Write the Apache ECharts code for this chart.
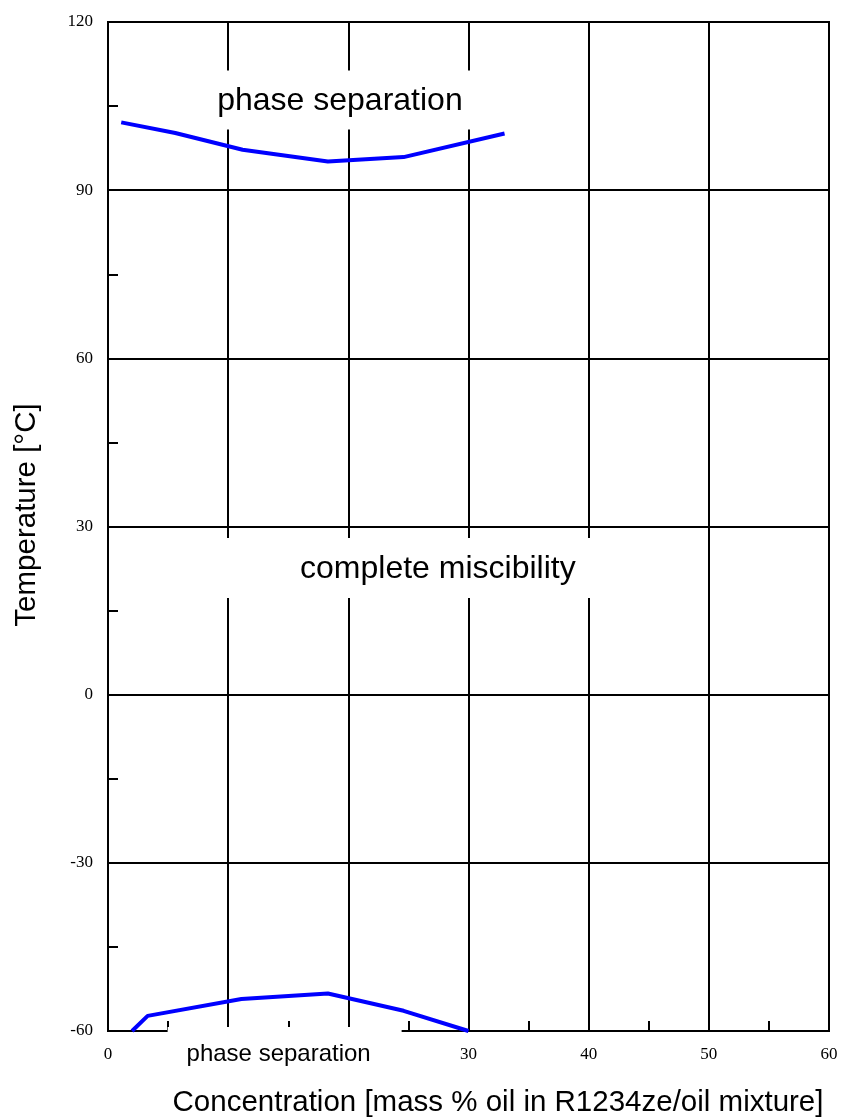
<!DOCTYPE html>
<html>
<head>
<meta charset="utf-8">
<script src="https://cdn.jsdelivr.net/npm/echarts@6/dist/echarts.min.js"></script>
<style>
  html, body { margin: 0; padding: 0; background: #fff; }
  #chart { width: 842px; height: 1117px; }
</style>
</head>
<body>
<div id="chart"></div>
<script>
  // upper miscibility limit (phase separation above)
  var upperConc = [1.1, 5.6, 11.2, 18.3, 24.6, 33];
  var upperTemp = [102.1, 100.2, 97.2, 95.1, 95.9, 100.1];

  // lower miscibility limit (phase separation below)
  var lowerConc = [2.0, 3.3, 11.1, 18.3, 24.6, 30];
  var lowerTemp = [-60, -57.3, -54.3, -53.3, -56.4, -60];

  var xTicks = { min: 0, max: 60, step: 10 };
  var yTicks = { min: -60, max: 120, step: 30 };

  // region labels: text, anchor (concentration, temperature), font size, white box size and offset
  var regionLabels = [
    { text: 'phase separation', at: [19.3, 105.9], size: 32, box: [290, 59], shift: [0, -1] },
    { text: 'complete miscibility', at: [27.45, 22.4], size: 32, box: [440, 60], shift: [0, -1] },
    { text: 'phase separation', at: [14.2, -64.1], size: 24, box: [234, 54], shift: [6, 0] }
  ];

  function pairs(xs, ys) {
    return xs.map(function (x, i) { return [x, ys[i]]; });
  }

  var chart = echarts.init(document.getElementById('chart'));

  var serifLabel = { color: '#000', fontFamily: 'Liberation Serif', fontSize: 17 };
  var blackLine = { color: '#000', width: 2 };

  chart.setOption({
    animation: false,
    backgroundColor: '#fff',
    grid: {
      left: 108, right: 13, top: 22, bottom: 86,
      outerBoundsMode: 'none', containLabel: false,
      show: true, borderColor: '#000', borderWidth: 2, backgroundColor: 'transparent'
    },
    xAxis: {
      type: 'value',
      min: xTicks.min, max: xTicks.max, interval: xTicks.step,
      name: 'Concentration [mass % oil in R1234ze/oil mixture]',
      nameLocation: 'middle', nameGap: 57,
      nameTextStyle: { color: '#000', fontFamily: 'Liberation Sans', fontSize: 29.5, padding: [0, 0, 0, 59] },
      axisLine: { show: true, onZero: false, lineStyle: blackLine },
      axisTick: { show: true, inside: true, length: 10, lineStyle: blackLine },
      minorTick: { show: true, splitNumber: 2, length: 10, lineStyle: blackLine },
      splitLine: { show: true, lineStyle: blackLine },
      axisLabel: Object.assign({ margin: 15 }, serifLabel)
    },
    yAxis: {
      type: 'value',
      min: yTicks.min, max: yTicks.max, interval: yTicks.step,
      name: 'Temperature [°C]',
      nameLocation: 'middle', nameGap: 66,
      nameTextStyle: { color: '#000', fontFamily: 'Liberation Sans', fontSize: 29.5, padding: [0, 0, 0, 23] },
      axisLine: { show: true, onZero: false, lineStyle: blackLine },
      axisTick: { show: true, inside: true, length: 10, lineStyle: blackLine },
      minorTick: { show: true, splitNumber: 2, length: 10, lineStyle: blackLine },
      splitLine: { show: true, lineStyle: blackLine },
      axisLabel: Object.assign({ margin: 15 }, serifLabel)
    },
    series: [
      {
        type: 'line', name: 'upper', data: pairs(upperConc, upperTemp),
        showSymbol: false, lineStyle: { color: '#0000ff', width: 4 }, z: 3
      },
      {
        type: 'line', name: 'lower', data: pairs(lowerConc, lowerTemp),
        showSymbol: false, lineStyle: { color: '#0000ff', width: 4 }, z: 3
      }
    ]
  });

  var graphics = regionLabels.map(function (lab) {
    var p = chart.convertToPixel({ gridIndex: 0 }, lab.at);
    return {
      type: 'group',
      x: p[0], y: p[1],
      z: 100,
      children: [
        {
          type: 'rect', z: 100,
          shape: {
            x: lab.shift[0] - lab.box[0] / 2, y: lab.shift[1] - lab.box[1] / 2,
            width: lab.box[0], height: lab.box[1]
          },
          style: { fill: '#fff' }
        },
        {
          type: 'text', z: 101,
          style: {
            text: lab.text, x: 0, y: 0,
            align: 'center', verticalAlign: 'middle',
            fontFamily: 'Liberation Sans', fontSize: lab.size, fill: '#000'
          }
        }
      ]
    };
  });
  chart.setOption({ graphic: graphics });

  window.addEventListener('resize', function () { chart.resize(); });
</script>
</body>
</html>
